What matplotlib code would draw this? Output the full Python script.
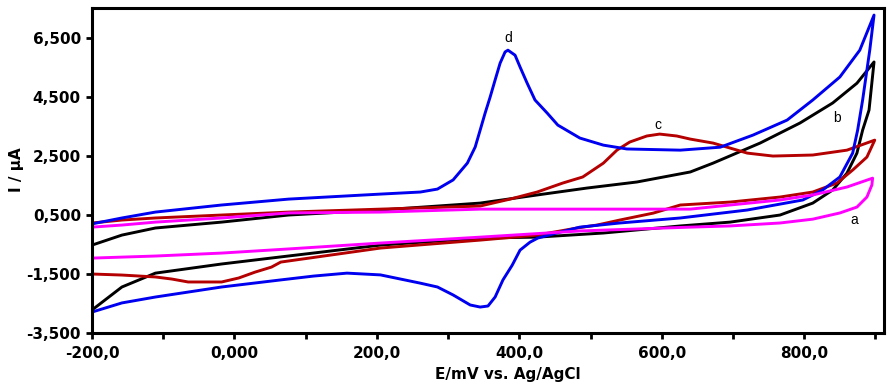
import matplotlib
matplotlib.use("Agg")
import matplotlib.pyplot as plt

# ---- data (E in mV, I in uA) ----
a_x = [-200, -158, -111, -18, 76, 205, 345, 485, 640, 696, 766, 812, 860, 896,
       895, 888, 874, 850, 812, 766, 696, 640, 485, 345, 205, 76, -18, -111, -200]
a_y = [90, 160, 260, 400, 570, 600, 700, 700, 700, 840, 1010, 1180, 1450, 1750,
       1520, 1110, 770, 570, 360, 230, 130, 90, -40, -250, -450, -650, -790, -890, -960]

b_x = [-200, -158, -111, -18, 76, 205, 345, 425, 495, 565, 640, 672, 738, 794, 840, 874, 898,
       891, 882, 874, 860, 840, 812, 766, 696, 626, 518, 425, 345, 205, 65, -18, -111, -158, -200]
b_y = [-520, -180, 60, 260, 500, 670, 905, 1180, 1415, 1620, 1960, 2260, 2940, 3620, 4300, 4970, 5690,
       4060, 3380, 2600, 1920, 1350, 905, 500, 260, 130, -110, -250, -280, -520, -920, -1160, -1470, -1940, -2720]

c_x = [-200, -158, -111, -18, 76, 205, 345, 387, 425, 461, 489, 518, 537, 555, 579, 597, 621, 640,
       672, 720, 756, 812, 860, 899,
       888, 868, 846, 812, 766, 696, 626, 588, 541, 509, 481, 425, 345, 205, 65, 52, 29, 6, -18,
       -65, -88, -111, -158, -200]
c_y = [230, 330, 400, 500, 600, 700, 805, 1040, 1280, 1585, 1790, 2260, 2700, 2975, 3180, 3245, 3180, 3075,
       2940, 2600, 2500, 2535, 2700, 3040,
       2465, 2025, 1585, 1280, 1110, 940, 840, 565, 330, 160, 60, -180, -350, -620, -1095, -1265, -1435, -1635, -1770,
       -1770, -1670, -1600, -1535, -1500]

d_x = [-200, -158, -111, -18, 76, 205, 261, 285, 307, 327, 338, 345, 352, 359, 366, 373, 380, 384, 394,
       401, 411, 422, 439, 454, 485, 518, 551, 626, 682, 728, 776, 812, 850, 878, 898,
       892, 882, 875, 868, 850, 826, 798, 720, 626, 541, 485, 457, 426, 415, 401, 390, 377, 366, 356,
       345, 331, 307, 285, 261, 205, 158, 111, 65, -18, -111, -158, -200]
d_y = [200, 400, 600, 840, 1040, 1210, 1280, 1380, 1690, 2260, 2805, 3380, 3960, 4500, 5080, 5650, 6030, 6090, 5920,
       5520, 4970, 4400, 3960, 3550, 3110, 2870, 2740, 2700, 2800, 3210, 3720, 4400, 5180, 6090, 7280,
       6090, 4400, 3380, 2600, 1790, 1350, 1010, 670, 400, 230, 90, -80, -280, -420, -690, -1200, -1700, -2280, -2585,
       -2620, -2550, -2210, -1940, -1810, -1530, -1470, -1570, -1700, -1940, -2280, -2480, -2790]

curve_labels = ["a", "b", "c", "d"]
label_x = [870, 846, 595, 384]
label_y = [330, 3790, 3550, 6500]

x_ticks = [-200, 0, 200, 400, 600, 800]
x_ticklabels = ["-200,0", "0,000", "200,0", "400,0", "600,0", "800,0"]
x_minor = [-100, 100, 300, 500, 700, 900]
y_ticks = [-3500, -1500, 500, 2500, 4500, 6500]
y_ticklabels = ["-3,500", "-1,500", "0,500", "2,500", "4,500", "6,500"]

# ---- plot ----
fig = plt.figure(figsize=(8.9, 3.9), dpi=100)
ax = fig.add_axes([92/890, 57/390, 792/890, 325/390])

lw = 2.1
ax.plot(b_x, b_y, color="#000000", lw=lw, solid_joinstyle="round")
ax.plot(c_x, c_y, color="#B40000", lw=lw, solid_joinstyle="round")
ax.plot(d_x, d_y, color="#0000F0", lw=lw, solid_joinstyle="round")
ax.plot(a_x, a_y, color="#FF00FF", lw=lw, solid_joinstyle="round")

for t, lx, ly in zip(curve_labels, label_x, label_y):
    ax.text(lx, ly, t, fontsize=10, ha="center", va="center", color="black",
            family="Liberation Sans")

ax.set_xlim(-200, 912)
ax.set_ylim(-3500, 7520)

ax.set_xticks(x_ticks)
ax.set_xticklabels(x_ticklabels)
ax.set_xticks(x_minor, minor=True)
ax.set_yticks(y_ticks)
ax.set_yticklabels(y_ticklabels)

for lab in ax.get_xticklabels() + ax.get_yticklabels():
    lab.set_fontweight("bold")
    lab.set_fontsize(11)
    lab.set_family("DejaVu Sans")

ax.tick_params(axis="both", which="both", direction="out", length=4, width=2,
               top=False, right=False)
ax.tick_params(axis="x", which="major", pad=5)
ax.tick_params(axis="y", which="major", pad=4)

for s in ax.spines.values():
    s.set_linewidth(2.2)

fig.text(508/890, 1 - 375/390, "E/mV vs. Ag/AgCl", ha="center", va="center",
         fontsize=11, fontweight="bold", family="DejaVu Sans")
fig.text(17/890, 1 - 170/390, "I / µA", ha="center", va="center", rotation=90,
         fontsize=11, fontweight="bold", family="DejaVu Sans")

fig.savefig("out.png", dpi=100)
